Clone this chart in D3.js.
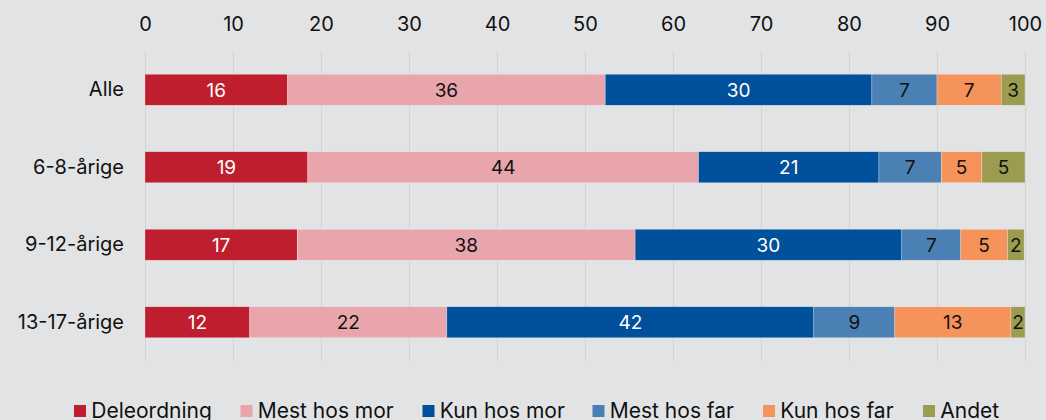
<!DOCTYPE html>
<html>
<head>
<meta charset="utf-8">
<script src="https://cdn.jsdelivr.net/npm/d3@7"></script>
<style>
  body { margin:0; background:#e2e3e5; }
  #chart { width:1046px; height:420px; }
  text { font-family: Inter, "Noto Sans", sans-serif; }
</style>
</head>
<body>
<div id="chart"></div>
<script>
var groups = ["Alle", "6-8-årige", "9-12-årige", "13-17-årige"];
var series = ["Deleordning", "Mest hos mor", "Kun hos mor", "Mest hos far", "Kun hos far", "Andet"];
var colors = ["#be1e2d", "#e8a5ab", "#00509b", "#4a80b4", "#f5935a", "#9b9c50"];
var labelColors = ["#fff", "#111", "#fff", "#111", "#111", "#111"];
// values per series, one per group
var deleordning = [16.2, 18.5, 17.3, 11.9];
var mestHosMor  = [36.1, 44.4, 38.4, 22.4];
var kunHosMor   = [30.3, 20.5, 30.3, 41.7];
var mestHosFar  = [7.4, 7.1, 6.7, 9.2];
var kunHosFar   = [7.3, 4.6, 5.3, 13.2];
var andet       = [2.7, 4.9, 1.9, 1.6];
var xTicks = [0, 10, 20, 30, 40, 50, 60, 70, 80, 90, 100];

var vals = [deleordning, mestHosMor, kunHosMor, mestHosFar, kunHosFar, andet];
var rows = groups.map(function(g, i) {
	var r = {group: g};
	series.forEach(function(s, j) { r[s] = vals[j][i]; });
	return r;
});

var chart = {
	padding: {l:145, r:21, t:51, b:59},
	w:1046,
	h:420,
	svg:null
};

chart.svg = d3.select('#chart').append('svg')
			.attr('width', chart.w)
			.attr('height', chart.h);

var x_scale = d3.scaleLinear()
				.domain([0, 100])
				.range([chart.padding.l, chart.w-chart.padding.r]);

var y_scale = d3.scaleBand()
				.domain(groups)
				.range([chart.padding.t, chart.h-chart.padding.b])
				.paddingInner(0.6)
				.paddingOuter(0.3);

var color = d3.scaleOrdinal().domain(series).range(colors);

// gridlines
chart.svg.append('g')
		.attr('class', 'grid')
		.selectAll('line')
		.data(xTicks)
		.enter()
		.append('line')
			.attr('x1', d=>x_scale(d)+0.5)
			.attr('x2', d=>x_scale(d)+0.5)
			.attr('y1', chart.padding.t)
			.attr('y2', chart.h-chart.padding.b)
			.attr('stroke', '#d3d4d7')
			.attr('stroke-width', 1);

// top axis labels
var x_axis = d3.axisTop(x_scale).tickValues(xTicks).tickSize(0).tickPadding(0);
chart.svg.append('g')
		.attr('class', 'axis x')
		.attr('transform', 'translate(0,31)')
		.call(x_axis)
		.call(g => g.select('.domain').remove())
		.call(g => g.selectAll('text')
			.attr('font-family', 'Inter, sans-serif')
			.attr('font-size', 20)
			.attr('fill', '#111'));

// category labels
var y_axis = d3.axisLeft(y_scale).tickSize(0).tickPadding(21);
chart.svg.append('g')
		.attr('class', 'axis y')
		.attr('transform', 'translate('+chart.padding.l+',0)')
		.call(y_axis)
		.call(g => g.select('.domain').remove())
		.call(g => g.selectAll('text')
			.attr('font-family', 'Inter, sans-serif')
			.attr('font-size', 20)
			.attr('fill', '#111'));

var stacked = d3.stack().keys(series)(rows);

var layers = chart.svg.append('g')
		.attr('class', 'bars')
		.selectAll('g')
		.data(stacked)
		.enter()
		.append('g')
			.attr('fill', d=>color(d.key));

layers.selectAll('rect')
		.data(d=>d)
		.enter()
		.append('rect')
			.attr('x', d=>x_scale(d[0]))
			.attr('y', d=>y_scale(d.data.group))
			.attr('width', d=>x_scale(d[1])-x_scale(d[0]))
			.attr('height', y_scale.bandwidth())
			.attr('stroke', 'rgba(255,255,255,0.45)')
			.attr('stroke-width', 0.6);

layers.each(function(s, si) {
	d3.select(this).selectAll('text')
		.data(s)
		.enter()
		.append('text')
			.attr('x', d=>(x_scale(d[0])+x_scale(d[1]))/2)
			.attr('y', d=>y_scale(d.data.group)+y_scale.bandwidth()/2)
			.attr('dy', '0.36em')
			.attr('text-anchor', 'middle')
			.attr('font-size', 19)
			.attr('fill', labelColors[si])
			.text(d=>Math.round(d[1]-d[0]));
});

// legend
var legendX = [74, 240.5, 422.5, 592.5, 763, 923];
var legend = chart.svg.append('g')
		.attr('class', 'legend')
		.selectAll('g')
		.data(series)
		.enter()
		.append('g')
			.attr('transform', (d,i)=>'translate('+legendX[i]+',405)');
legend.append('rect')
		.attr('width', 12)
		.attr('height', 12)
		.attr('fill', d=>color(d));
legend.append('text')
		.attr('x', 17.3)
		.attr('y', 12.5)
		.attr('font-size', 21)
		.attr('fill', '#111')
		.text(d=>d);
</script>
</body>
</html>
